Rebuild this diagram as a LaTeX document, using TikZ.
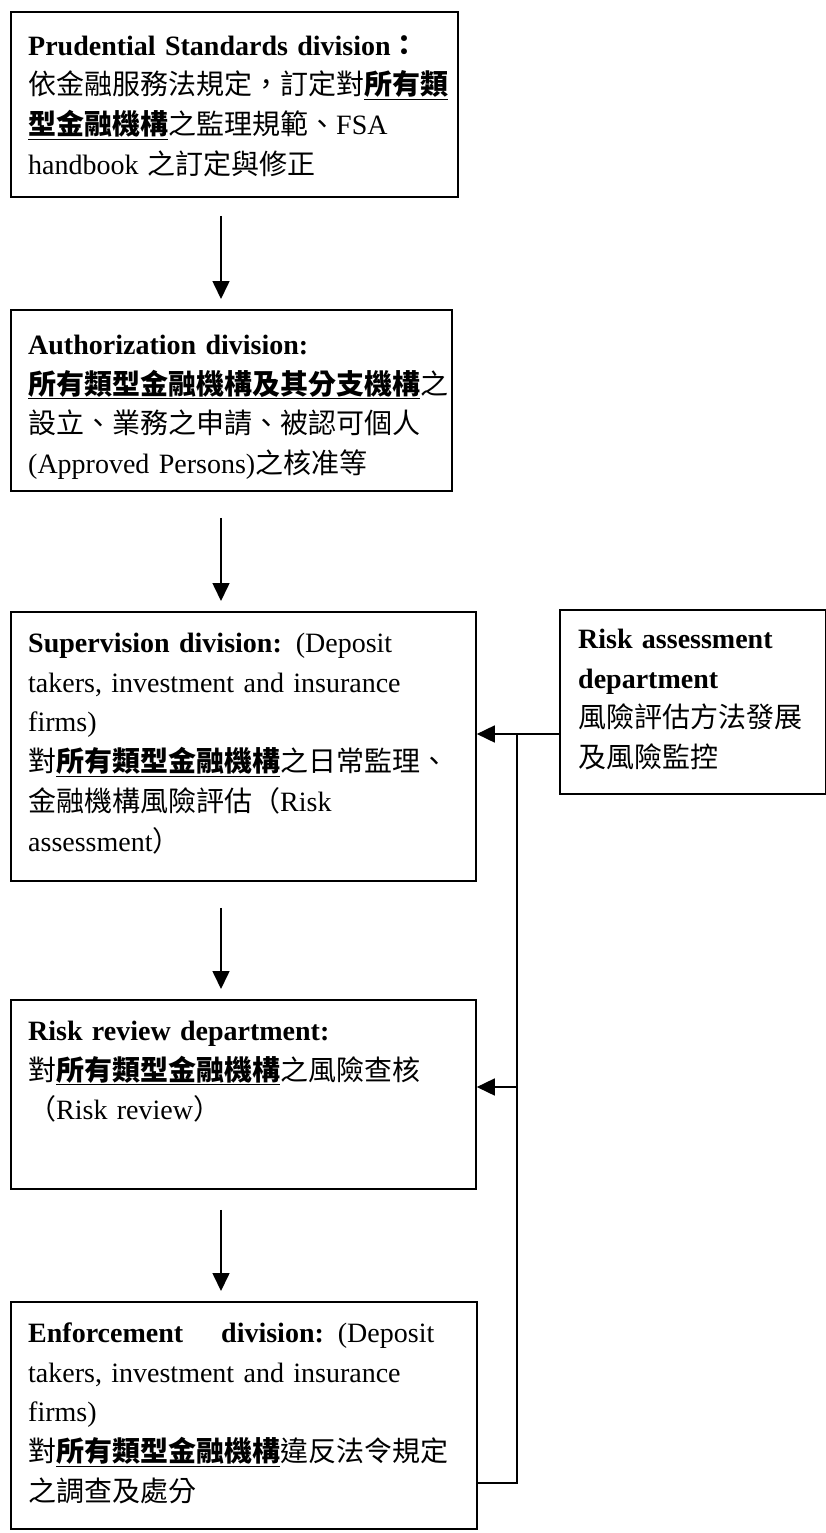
\documentclass[tikz,border=0pt]{standalone}
\usepackage{fontspec}
\setmainfont{Liberation Serif}
\newfontfamily\cjk{Noto Sans CJK TC}
\usetikzlibrary{arrows.meta}
% emphasised Chinese phrase: bold and underlined
\newcommand\emcjk[1]{\underline{{\cjk\bfseries #1}}}
\newcommand\zh[1]{{\cjk #1}}
% fixed height of the first line, so every text block starts at a known baseline
\newcommand\firstln{\rule{0pt}{30pt}}

\begin{document}
\begin{tikzpicture}[x=1pt,y=1pt,
  box/.style={draw, line width=1.8pt, rectangle, inner sep=0pt, anchor=north west},
  txt/.style={anchor=north west, align=left, inner sep=0pt, text width=460pt,
              font=\fontsize{28}{39.8}\selectfont},
  arr/.style={line width=1.6pt, -{Triangle[length=18pt,width=17pt]}},
  link/.style={line width=1.6pt}]
\useasboundingbox (0,0) rectangle (826,-1533);

% ---- boxes ----
\node[box, minimum width=447pt, minimum height=185pt] (ps) at (10,-11) {};
\node[box, minimum width=441pt, minimum height=181pt] (au) at (10,-309) {};
\node[box, minimum width=465pt, minimum height=269pt] (sv) at (10,-611) {};
\node[box, minimum width=266pt, minimum height=184pt] (ra) at (559,-609) {};
\node[box, minimum width=465pt, minimum height=189pt] (rr) at (10,-999) {};
\node[box, minimum width=466pt, minimum height=227pt] (en) at (10,-1301) {};

% ---- texts ----
\node[txt] (pst) at ([shift={(18,-14)}]ps.north west) {\firstln\textbf{Prudential Standards division}{\cjk\bfseries ：}\\
\zh{依金融服務法規定，訂定對}\emcjk{所有類}\\
\emcjk{型金融機構}\zh{之監理規範、}FSA\\
handbook \zh{之訂定與修正}};

\node[txt] (aut) at ([shift={(18,-15)}]au.north west) {\firstln\textbf{Authorization division:}\\
\emcjk{所有類型金融機構及其分支機構}\zh{之}\\
\zh{設立、業務之申請、被認可個人}\\
(Approved Persons)\zh{之核准等}};

\node[txt] (svt) at ([shift={(18,-11)}]sv.north west) {\firstln\textbf{Supervision division:} (Deposit\\
takers, investment and insurance\\
firms)\\
\zh{對}\emcjk{所有類型金融機構}\zh{之日常監理、}\\
\zh{金融機構風險評估（}Risk\\
assessment\zh{）}};

\node[txt, text width=250pt] (rat) at ([shift={(19,-9)}]ra.north west) {\firstln\textbf{Risk assessment}\\
\textbf{department}\\
\zh{風險評估方法發展}\\
\zh{及風險監控}};

\node[txt] (rrt) at ([shift={(18,-11)}]rr.north west) {\firstln\textbf{Risk review department:}\\
\zh{對}\emcjk{所有類型金融機構}\zh{之風險查核}\\
\zh{（}Risk review\zh{）}};

\node[txt] (ent) at ([shift={(18,-11)}]en.north west) {\firstln\textbf{Enforcement\hspace{38pt}division:} (Deposit\\
takers, investment and insurance\\
firms)\\
\zh{對}\emcjk{所有類型金融機構}\zh{違反法令規定}\\
\zh{之調查及處分}};

% ---- main chain ----
\coordinate (ax) at (221,0);
\draw[arr, shorten <=18pt, shorten >=10pt] (ps.south -| ax) -- (au.north -| ax);
\draw[arr, shorten <=26pt, shorten >=10pt] (au.south -| ax) -- (sv.north -| ax);
\draw[arr, shorten <=26pt, shorten >=10pt] (sv.south -| ax) -- (rr.north -| ax);
\draw[arr, shorten <=20pt, shorten >=10pt] (rr.south -| ax) -- (en.north -| ax);

% ---- risk assessment feed ----
\coordinate (j1) at (517,-734);
\coordinate (j2) at (517,-1087);
\coordinate (j3) at (517,-1483);
\draw[arr] (ra.west |- j1) -- (sv.east |- j1);
\draw[link] (j1) -- (j3) -- (en.east |- j3);
\draw[arr] (j2) -- (rr.east |- j2);
\end{tikzpicture}
\end{document}
